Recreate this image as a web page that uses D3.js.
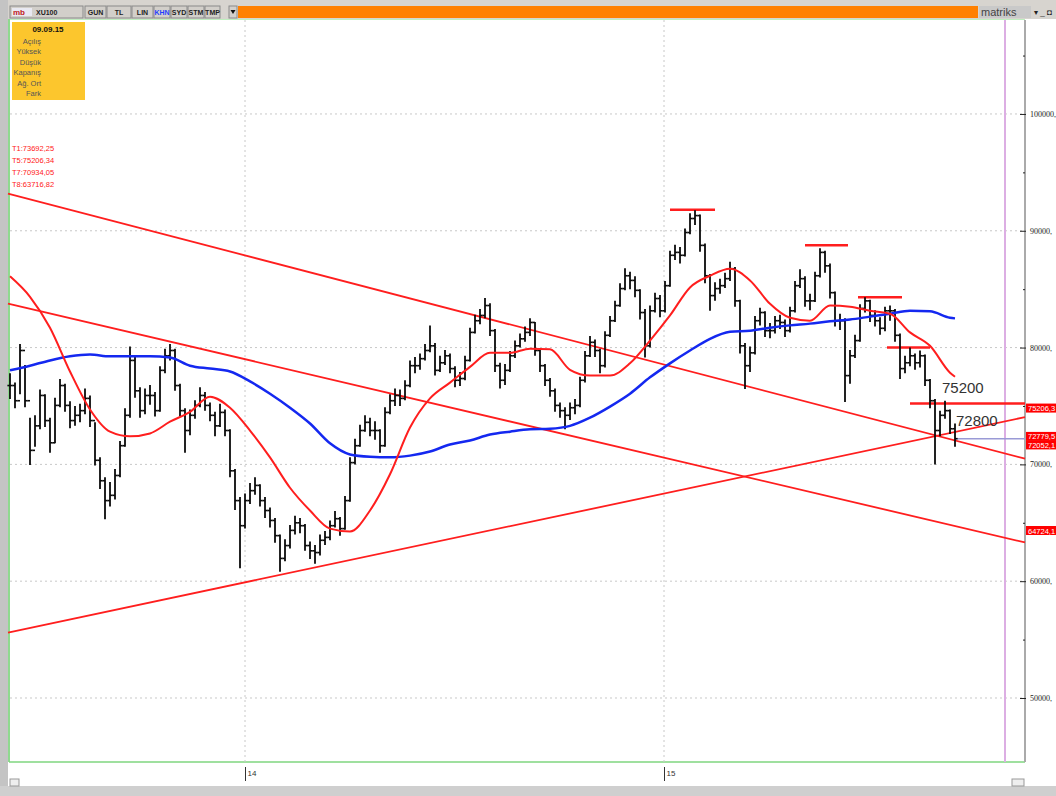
<!DOCTYPE html>
<html>
<head>
<meta charset="utf-8">
<script src="https://cdn.jsdelivr.net/npm/d3@7"></script>
<style>
  body { margin: 0; background: #fff; }
  svg { display: block; font-family: "Liberation Sans", Arial, sans-serif; }
</style>
</head>
<body>
<svg width="1056" height="796"></svg>
<script>
// ---- data (XU100, bars every ~3 trading days) ----
const closes = [
  76750, 75450, 79750, 75450, 71200, 73300, 75900, 73750, 71850, 75050,
  76750, 75050, 73750, 74200, 74600, 75650, 73750, 70350, 68600, 66900,
  67350, 69050, 71600, 74200, 78900, 76300, 74600, 75900, 75900, 74600,
  78050, 79300, 79750, 76750, 74600, 72900, 74200, 75050, 75900, 75050,
  74200, 73300, 74450, 72900, 69450, 66900, 64750, 66900, 67750, 68200,
  66900, 66050, 65200, 63900, 61950, 63050, 64350, 65000, 64750, 63050,
  62600, 62450, 63500, 63750, 64750, 65350, 64500, 66900, 70150, 71600,
  72900, 73600, 72900, 72900, 71600, 74450, 75450, 75900, 75650, 76750,
  78450, 78450, 79050, 79750, 80150, 78050, 78700, 79300, 78200, 77200,
  77350, 78900, 81300, 82300, 82750, 83600, 81450, 78450, 77200, 78050,
  79300, 80150, 80750, 81300, 82150, 79750, 78450, 77200, 76300, 75050,
  74600, 74200, 74850, 75050, 77200, 79300, 80450, 79750, 78450, 81050,
  82300, 83600, 85050, 86150, 85750, 84900, 83000, 80150, 83150, 84200,
  83150, 85300, 87900, 88150, 87900, 89850, 91050, 91300, 88750, 86150,
  84450, 85050, 85300, 85900, 86750, 84000, 80150, 78450, 79550, 82300,
  83000, 81450, 81450, 82300, 82150, 81450, 83150, 85300, 85900, 84000,
  84000, 86150, 88150, 87000, 84700, 82300, 82300, 77600, 79300, 80600,
  83350, 84000, 82750, 82300, 81650, 83150, 83150, 81050, 78200, 78700,
  79300, 78700, 79300, 77200, 75450, 72900, 74200, 74600, 73050, 72200
];
const highs = [
  77800, 77000, 80300, 78500, 74000, 74200, 76400, 76000, 74000, 75700,
  77300, 76900, 75400, 75000, 75200, 76500, 75900, 73600, 70600, 68900,
  68500, 69600, 72000, 74800, 80100, 79200, 76600, 76500, 76800, 76200,
  78400, 79900, 80300, 79900, 76900, 74800, 74700, 75500, 76600, 76200,
  75300, 74500, 75200, 74700, 73000, 69600, 67200, 67500, 68400, 68900,
  68300, 67200, 66300, 65400, 64000, 63600, 64800, 65600, 65400, 64900,
  63400, 63100, 64000, 64300, 65200, 66000, 65500, 67300, 70600, 72200,
  73400, 74200, 74000, 73700, 73000, 74900, 76000, 76500, 76400, 77200,
  78900, 79200, 79500, 80300, 81900, 80400, 79300, 79800, 79500, 78400,
  77900, 79300, 81700, 82800, 83300, 84250, 83800, 81600, 78700, 78600,
  79700, 80600, 81200, 81800, 82500, 82200, 79900, 78600, 77400, 76500,
  75300, 74900, 75300, 75600, 77500, 79700, 81000, 80700, 79900, 81400,
  82700, 84000, 85500, 86800, 86500, 86100, 85000, 83300, 83600, 84700,
  84500, 85700, 88300, 88800, 88600, 90200, 91500, 91750, 91400, 88900,
  86300, 85600, 85900, 86400, 87350, 86900, 84100, 80400, 80100, 82700,
  83400, 83100, 82100, 82700, 82800, 82400, 83500, 85700, 86700, 86100,
  84600, 86500, 88500, 88300, 87200, 84800, 82900, 82500, 79800, 81100,
  83700, 84300, 84100, 83200, 82600, 83500, 83600, 83300, 81200, 79300,
  80000, 79500, 79750, 79400, 77300, 75600, 74600, 75450, 74700, 73500
];
const lows = [
  75600, 74800, 76000, 74900, 69950, 71500, 73000, 73200, 71000, 71800,
  74900, 74500, 73100, 73300, 73600, 74300, 73200, 69900, 67900, 65300,
  66400, 67000, 68900, 71500, 74000, 75700, 74000, 74300, 75100, 74100,
  74500, 77800, 78900, 76300, 74100, 71000, 72500, 73900, 74900, 74600,
  73700, 72400, 73200, 72400, 68900, 66100, 61100, 64500, 66600, 67400,
  66400, 65400, 64600, 63300, 60800, 61700, 62800, 64000, 64100, 62600,
  61900, 61500, 62200, 63100, 63500, 64600, 63900, 64400, 66800, 70000,
  71500, 72800, 72400, 72100, 71000, 71500, 74300, 75000, 75000, 75500,
  76600, 77800, 78100, 78900, 79600, 77600, 77900, 78500, 77800, 76600,
  76700, 77200, 78800, 81200, 82000, 82500, 81000, 77900, 76500, 76800,
  77900, 79100, 80000, 80500, 81000, 79300, 77900, 76700, 75800, 74500,
  74000, 73000, 73800, 74300, 74900, 77000, 79200, 79200, 77800, 78300,
  80900, 82200, 83500, 84900, 85000, 84300, 82400, 79150, 80000, 83000,
  82600, 83000, 85200, 87500, 87200, 87800, 89700, 90500, 88200, 85500,
  83150, 84000, 84600, 85100, 85700, 83500, 79500, 76450, 77900, 79400,
  81900, 80900, 80800, 81200, 81600, 80900, 81300, 83000, 85100, 83500,
  83200, 83900, 86000, 86400, 84200, 81800, 81500, 75350, 76900, 79100,
  80500, 83000, 82200, 81800, 81100, 81400, 82300, 80500, 77300, 77800,
  78400, 78100, 78300, 76700, 74800, 70000, 72400, 73900, 72600, 71500
];
// moving averages: [bar index, value]
const maRed = [
  [0, 86100], [4, 84350], [8, 81700], [12, 77950], [16, 74700], [20, 72800],
  [24, 72400], [28, 72650], [32, 73650], [36, 74500], [40, 75800], [44, 74850],
  [48, 72900], [52, 70600], [56, 68000], [60, 66050], [64, 64500], [68, 64250],
  [72, 66050], [76, 69150], [80, 73150], [84, 75650], [88, 77000], [92, 78350],
  [96, 79550], [100, 79550], [104, 79900], [108, 79850], [112, 78100], [116, 77600],
  [120, 77600], [124, 78650], [128, 80600], [132, 82750], [136, 85150], [140, 86150],
  [144, 86750], [148, 85750], [152, 83750], [156, 82550], [160, 82300], [164, 83600],
  [168, 83500], [172, 83150], [176, 82900], [180, 81300], [184, 80150], [188, 77850],
  [189, 77500]
];
const maBlue = [
  [0, 78050], [4, 78450], [8, 78900], [12, 79250], [16, 79400], [20, 79250],
  [24, 79250], [28, 79250], [32, 79150], [36, 78450], [40, 78200], [44, 77950],
  [48, 77100], [52, 76050], [56, 74850], [60, 73500], [64, 71800], [68, 70850],
  [72, 70650], [76, 70600], [80, 70750], [84, 71100], [88, 71700], [92, 72050],
  [96, 72550], [100, 72800], [104, 73000], [108, 73050], [112, 73300], [116, 74000],
  [120, 74950], [124, 76050], [128, 77450], [132, 78650], [136, 79750], [140, 80750],
  [144, 81350], [148, 81450], [152, 81700], [156, 81900], [160, 82050], [164, 82250],
  [168, 82400], [172, 82650], [176, 82900], [180, 83150], [184, 83100], [188, 82550],
  [189, 82500]
];
// trend lines: value at left edge, value at right edge
const trendTop = [93180, 70490];
const trendMid = [83770, 63316];
const trendUp = [55600, 74050];
// short resistance levels: [from bar, to bar, value]
const levels = [
  [132, 141, 91800], [159, 167.6, 88750], [169.6, 178.4, 84300],
  [175.4, 184, 80000], [180, 203, 75206]
];
const rightLabels = [75206.3, 72779.5, 72052.1, 64724.1];
const notes = [["75200", 186.4, 76150], ["72800", 189.2, 73300]];
const tValues = ["T1:73692,25", "T5:75206,34", "T7:70934,05", "T8:63716,82"];
const infoDate = "09.09.15";
const infoLabels = ["Açılış", "Yüksek", "Düşük", "Kapanış", "Ağ. Ort", "Fark"];
const yTicks = [50000, 60000, 70000, 80000, 90000, 100000];
const yMinor = [55000, 65000, 75000, 85000, 95000, 105000];
const yearTicks = [[47, "14"], [130.8, "15"]];
const cursorBar = 199;
const buttons = ["GUN", "TL", "LIN", "KHN", "SYD", "STM", "TMP"];

// ---- scales ----
const svg = d3.select("svg");
const x = d3.scaleLinear().domain([-0.4, 203]).range([8, 1025]);
const y = d3.scaleLinear().domain([44520, 108130]).range([762, 19]);

// ---- frame ----
svg.append("rect").attr("width", 1056).attr("height", 796).attr("fill", "#fff");
svg.append("rect").attr("x", 0).attr("y", 0).attr("width", 1056).attr("height", 19).attr("fill", "#d7d4cf");
svg.append("rect").attr("x", 0).attr("y", 0).attr("width", 8).attr("height", 796).attr("fill", "#c4c4c4");
svg.append("rect").attr("x", 0).attr("y", 786).attr("width", 1056).attr("height", 10).attr("fill", "#cfcfcf");
svg.append("rect").attr("x", 10).attr("y", 779).attr("width", 9).attr("height", 7).attr("fill", "#eee").attr("stroke", "#999");
svg.append("rect").attr("x", 1012).attr("y", 779).attr("width", 12).attr("height", 7).attr("fill", "#eee").attr("stroke", "#999");

// green plot border
svg.append("line").attr("x1", 9).attr("x2", 1025).attr("y1", 19.5).attr("y2", 19.5).attr("stroke", "#bfeebf");
svg.append("line").attr("x1", 9).attr("x2", 9).attr("y1", 19).attr("y2", 762).attr("stroke", "#8fd98f").attr("stroke-width", 2);
svg.append("line").attr("x1", 9).attr("x2", 1025).attr("y1", 762).attr("y2", 762).attr("stroke", "#7fd67f").attr("stroke-width", 1.5);

// toolbar
const tb = svg.append("g").attr("font-size", 8).attr("font-weight", "bold");
tb.append("rect").attr("x", 10).attr("y", 6).attr("width", 73).attr("height", 12).attr("fill", "#d2cfca").attr("stroke", "#8a8a8a");
tb.append("rect").attr("x", 12).attr("y", 8).attr("width", 20).attr("height", 8).attr("fill", "#e9e9f2");
tb.append("text").attr("x", 13).attr("y", 15).attr("fill", "#c02020").text("mb");
tb.append("text").attr("x", 36).attr("y", 15).attr("fill", "#222").attr("font-size", 7).text("XU100");
const bw = [22, 25, 22, 17, 17, 17, 16];
let bx = 85;
buttons.forEach((b, k) => {
  tb.append("rect").attr("x", bx).attr("y", 6).attr("width", bw[k] - 1).attr("height", 12)
    .attr("fill", "#d2cfca").attr("stroke", "#8a8a8a");
  tb.append("text").attr("x", bx + (bw[k] - 1) / 2).attr("y", 15).attr("text-anchor", "middle")
    .attr("fill", b === "KHN" ? "#1f3fff" : "#222").attr("font-size", 7).text(b);
  bx += bw[k];
});
tb.append("rect").attr("x", 229).attr("y", 6).attr("width", 8).attr("height", 12).attr("fill", "#d2cfca").attr("stroke", "#8a8a8a");
tb.append("path").attr("d", "M230.5,10 L235.5,10 L233,14 Z").attr("fill", "#111");
svg.append("rect").attr("x", 238).attr("y", 6).attr("width", 740).attr("height", 12).attr("fill", "#ff8000");
svg.append("rect").attr("x", 979).attr("y", 6).attr("width", 52).attr("height", 12).attr("fill", "#c9c9c9");
svg.append("text").attr("x", 981).attr("y", 16).attr("font-size", 11).attr("fill", "#444").text("matriks");
svg.append("rect").attr("x", 1032).attr("y", 6).attr("width", 24).attr("height", 12).attr("fill", "#d7d4cf");
svg.append("text").attr("x", 1034).attr("y", 15).attr("font-size", 8).attr("fill", "#222").text("▾ _ ◘");

// ---- grid ----
const grid = svg.append("g").attr("stroke", "#c8c8c8").attr("stroke-dasharray", "2,3");
grid.selectAll(".h").data(yTicks).join("line")
  .attr("x1", 10).attr("x2", 1025).attr("y1", d => y(d)).attr("y2", d => y(d));
grid.selectAll(".v").data(yearTicks).join("line")
  .attr("x1", d => x(d[0])).attr("x2", d => x(d[0])).attr("y1", 20).attr("y2", 762);

// cursor line
svg.append("line").attr("x1", x(cursorBar)).attr("x2", x(cursorBar)).attr("y1", 20).attr("y2", 762)
  .attr("stroke", "#dcaee3").attr("stroke-width", 2);

// ---- y axis ----
svg.append("line").attr("x1", 1025).attr("x2", 1025).attr("y1", 20).attr("y2", 762)
  .attr("stroke", "#aaa").attr("stroke-width", 2);
const yAxis = svg.append("g").attr("transform", "translate(1020,0)")
  .call(d3.axisRight(y).tickValues(yTicks).tickFormat(d => d + ",").tickSize(6).tickPadding(4));
yAxis.select(".domain").remove();
yAxis.selectAll("text").attr("font-family", "Liberation Serif, serif").attr("font-size", 8).attr("fill", "#222");
yAxis.selectAll("line").attr("stroke", "#222");
const yMin = svg.append("g").attr("transform", "translate(1023,0)")
  .call(d3.axisRight(y).tickValues(yMinor).tickFormat("").tickSize(2));
yMin.select(".domain").remove();
yMin.selectAll("line").attr("stroke", "#222");

// ---- x axis ----
const xAxis = svg.append("g").attr("transform", "translate(0,767)")
  .call(d3.axisBottom(x).tickValues(yearTicks.map(d => d[0]))
    .tickFormat((d, k) => yearTicks[k][1]).tickSize(14).tickPadding(-11));
xAxis.select(".domain").remove();
xAxis.selectAll("line").attr("stroke", "#333");
xAxis.selectAll("text").attr("text-anchor", "start").attr("x", 2).attr("font-size", 8).attr("fill", "#333");

// ---- trend lines ----
const xd = x.domain();
[trendTop, trendMid, trendUp].forEach(t => {
  svg.append("line").attr("x1", x(xd[0])).attr("y1", y(t[0])).attr("x2", x(xd[1])).attr("y2", y(t[1]))
    .attr("stroke", "#ff1e1e").attr("stroke-width", 1.8);
});
svg.selectAll(".lvl").data(levels).join("line")
  .attr("x1", d => x(d[0])).attr("x2", d => x(d[1])).attr("y1", d => y(d[2])).attr("y2", d => y(d[2]))
  .attr("stroke", "#ff1e1e").attr("stroke-width", 2.5);

// last price line
const last = closes.length - 1;
svg.append("line").attr("x1", x(last)).attr("x2", 1025).attr("y1", y(closes[last])).attr("y2", y(closes[last]))
  .attr("stroke", "#9a9ad6").attr("stroke-width", 1.5);

// ---- bars ----
const bars = svg.append("g").attr("stroke", "#0a0a0a");
bars.selectAll(".hl").data(closes).join("line")
  .attr("stroke-width", 1.8)
  .attr("x1", (d, i) => x(i)).attr("x2", (d, i) => x(i))
  .attr("y1", (d, i) => y(highs[i])).attr("y2", (d, i) => y(lows[i]));
bars.selectAll(".cl").data(closes).join("line")
  .attr("stroke-width", 1.6)
  .attr("x1", (d, i) => x(i)).attr("x2", (d, i) => x(i) + 2.6)
  .attr("y1", d => y(d)).attr("y2", d => y(d));
bars.selectAll(".op").data(closes).join("line")
  .attr("stroke-width", 1.6)
  .attr("x1", (d, i) => x(i) - 2.6).attr("x2", (d, i) => x(i))
  .attr("y1", (d, i) => y(i ? closes[i - 1] : d)).attr("y2", (d, i) => y(i ? closes[i - 1] : d));

// ---- moving averages ----
const ma = d3.line().x(d => x(d[0])).y(d => y(d[1])).curve(d3.curveMonotoneX);
svg.append("path").attr("d", ma(maBlue)).attr("fill", "none").attr("stroke", "#1428f0").attr("stroke-width", 2.5);
svg.append("path").attr("d", ma(maRed)).attr("fill", "none").attr("stroke", "#ff1e1e").attr("stroke-width", 2);

// ---- right value boxes ----
const rl = svg.append("g");
rightLabels.forEach(v => {
  rl.append("rect").attr("x", 1026).attr("y", y(v)).attr("width", 30).attr("height", 9).attr("fill", "#ff0000");
  rl.append("text").attr("x", 1028).attr("y", y(v) + 7.5).attr("font-size", 7.5).attr("fill", "#fff")
    .text(v.toFixed(1).replace(".", ","));
});

// ---- notes ----
svg.selectAll(".note").data(notes).join("text")
  .attr("x", d => x(d[1])).attr("y", d => y(d[2])).attr("font-size", 15).attr("fill", "#333").text(d => d[0]);

// T values
svg.selectAll(".tv").data(tValues).join("text")
  .attr("x", 12).attr("y", (d, i) => 151 + i * 12).attr("font-size", 7.5).attr("fill", "#ff2020").text(d => d);

// info box
svg.append("rect").attr("x", 12).attr("y", 22).attr("width", 73).attr("height", 78).attr("fill", "#fcc62d");
svg.append("text").attr("x", 48).attr("y", 32).attr("text-anchor", "middle").attr("font-size", 8)
  .attr("font-weight", "bold").attr("fill", "#111").text(infoDate);
svg.selectAll(".il").data(infoLabels).join("text")
  .attr("x", 41).attr("y", (d, i) => 44 + i * 10.4).attr("text-anchor", "end")
  .attr("font-size", 7.5).attr("fill", "#555").text(d => d);
</script>
</body>
</html>
